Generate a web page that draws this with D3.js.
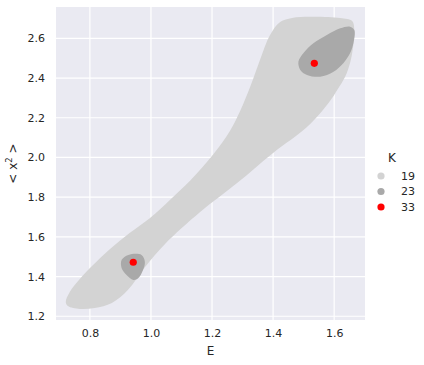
<!DOCTYPE html>
<html>
<head>
<meta charset="utf-8">
<script src="https://cdn.jsdelivr.net/npm/d3@7"></script>
<style>
  body { margin: 0; background: #fff; }
  text { font-family: "DejaVu Sans", sans-serif; fill: #262626; }
</style>
</head>
<body>
<script>
// outline of the K=19 region (E, <x^2>)
var outer19 = [
  [0.721,1.272],[0.734,1.322],[0.767,1.388],[0.807,1.453],[0.866,1.539],[0.931,1.620],
  [0.997,1.695],[1.062,1.786],[1.128,1.882],[1.203,2.013],[1.259,2.134],[1.292,2.234],
  [1.325,2.356],[1.357,2.491],[1.390,2.617],[1.423,2.683],[1.462,2.703],[1.521,2.709],
  [1.620,2.703],[1.659,2.688],[1.666,2.642],[1.662,2.557],[1.652,2.476],[1.636,2.406],
  [1.610,2.340],[1.584,2.279],[1.511,2.153],[1.400,2.023],[1.282,1.871],[1.161,1.725],
  [1.046,1.564],[0.980,1.447],[0.925,1.333],[0.872,1.267],[0.816,1.242],[0.767,1.237],
  [0.728,1.252]
];
// K=23 blobs
var upper23 = [
  [1.483,2.483],[1.489,2.441],[1.511,2.416],[1.554,2.407],[1.598,2.432],[1.630,2.475],
  [1.652,2.525],[1.663,2.575],[1.666,2.642],[1.652,2.659],[1.620,2.651],[1.576,2.617],
  [1.532,2.575],[1.499,2.525]
];
var lower23 = [
  [0.904,1.484],[0.926,1.509],[0.969,1.509],[0.980,1.475],[0.974,1.433],[0.958,1.391],
  [0.942,1.383],[0.920,1.408],[0.904,1.442]
];
// K=33 points
var points33 = [[0.942,1.472],[1.535,2.474]];

var legendKeys = ["19","23","33"];
var legendColors = ["lightgray","darkgray","red"];
var xTicks = [0.8,1.0,1.2,1.4,1.6];
var yTicks = [1.2,1.4,1.6,1.8,2.0,2.2,2.4,2.6];

var W = 424, H = 365;
var margin = {top: 7, right: 59, bottom: 45, left: 56};
var width = W - margin.left - margin.right,
    height = H - margin.top - margin.bottom;

var svg = d3.select("body").append("svg")
    .attr("width", W).attr("height", H);
var g = svg.append("g")
    .attr("transform", "translate(" + margin.left + "," + margin.top + ")");

var x = d3.scaleLinear().domain([0.689, 1.701]).range([0, width]);
var y = d3.scaleLinear().domain([1.181, 2.758]).range([height, 0]);

g.append("rect").attr("width", width).attr("height", height).attr("fill", "#eaeaf2");

// grid
g.selectAll(".gx").data(xTicks).enter().append("line")
  .attr("x1", function(d){ return x(d); }).attr("x2", function(d){ return x(d); })
  .attr("y1", 0).attr("y2", height)
  .attr("stroke", "#fff").attr("stroke-width", 1.2);
g.selectAll(".gy").data(yTicks).enter().append("line")
  .attr("y1", function(d){ return y(d); }).attr("y2", function(d){ return y(d); })
  .attr("x1", 0).attr("x2", width)
  .attr("stroke", "#fff").attr("stroke-width", 1.2);

var line = d3.line()
  .x(function(d){ return x(d[0]); })
  .y(function(d){ return y(d[1]); })
  .curve(d3.curveCatmullRomClosed.alpha(0.5));

g.append("path").attr("d", line(outer19)).attr("fill", "lightgray");
g.append("path").attr("d", line(upper23)).attr("fill", "darkgray");
g.append("path").attr("d", line(lower23)).attr("fill", "darkgray");

g.selectAll(".pt").data(points33).enter().append("circle")
  .attr("cx", function(d){ return x(d[0]); })
  .attr("cy", function(d){ return y(d[1]); })
  .attr("r", 3.6).attr("fill", "red");

// axes
var xAxis = g.append("g").attr("transform", "translate(0," + height + ")")
  .call(d3.axisBottom(x).tickValues(xTicks).tickFormat(d3.format(".1f")).tickSize(0).tickPadding(9));
var yAxis = g.append("g")
  .call(d3.axisLeft(y).tickValues(yTicks).tickFormat(d3.format(".1f")).tickSize(0).tickPadding(11));
[xAxis, yAxis].forEach(function(a){
  a.select(".domain").remove();
  a.selectAll("text").attr("font-size", 11).attr("fill", "#262626")
    .attr("font-family", "DejaVu Sans, sans-serif");
});

svg.append("text").attr("x", margin.left + width/2).attr("y", 355)
  .attr("text-anchor", "middle").attr("font-size", 12).text("E");

var yl = svg.append("text")
  .attr("transform", "translate(17," + (margin.top + height/2) + ") rotate(-90)")
  .attr("text-anchor", "middle").attr("font-size", 12);
yl.append("tspan").text("< x");
yl.append("tspan").attr("dy", -5).attr("font-size", 8.5).text("2");
yl.append("tspan").attr("dy", 5).text(" >");

// legend
var lg = svg.append("g").attr("transform", "translate(381,0)");
lg.append("text").attr("x", 11).attr("y", 162).attr("text-anchor", "middle")
  .attr("font-size", 12).text("K");
var items = lg.selectAll(".li").data(legendKeys).enter().append("g")
  .attr("transform", function(d, i){ return "translate(0," + (176 + i*15.5) + ")"; });
items.append("circle").attr("r", 3.6)
  .attr("fill", function(d, i){ return legendColors[i]; });
items.append("text").attr("x", 20).attr("dy", "0.35em").attr("font-size", 11)
  .text(function(d){ return d; });
</script>
</body>
</html>
